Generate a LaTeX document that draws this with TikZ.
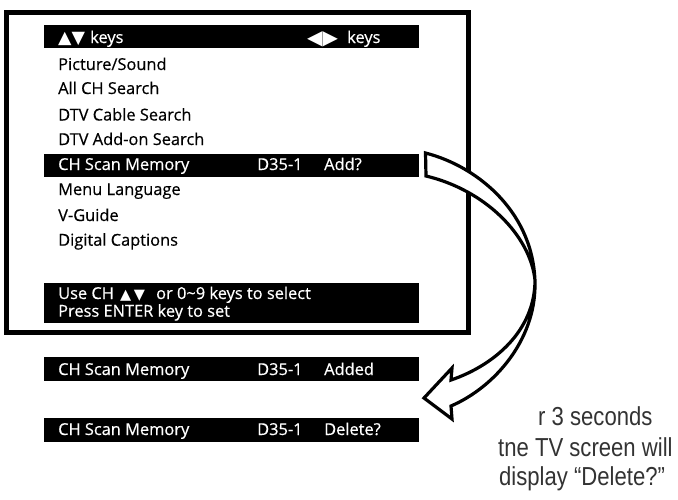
\documentclass[tikz,border=0pt]{standalone}
\usepackage{fontspec}
\setmainfont{Open Sans}[FakeBold=0.45]
\newfontfamily\symfont{DejaVu Sans}
\newfontfamily\narrowfont[FakeStretch=0.85]{Liberation Sans}
\tikzset{
  bar/.style={fill=black,draw=none,anchor=north west,inner sep=0pt,minimum width=375.5pt},
  lab/.style={anchor=base west,inner sep=0pt,font=\fontsize{16.4}{18}\selectfont},
  inv/.style={lab,text=white},
  note/.style={anchor=base west,inner sep=0pt,font=\narrowfont\fontsize{26}{28}\selectfont,text=black!80},
  bigarrow/.style={draw=black,fill=white,line width=3.2pt,line join=miter},
}
\begin{document}
\begin{tikzpicture}[x=1pt,y=-1pt]
\useasboundingbox (0,0) rectangle (678,499);
\fill[white] (0,0) rectangle (678,499);
\draw[line width=5pt] (6.5,12.5) rectangle (468.5,332.5);
\node[bar,minimum height=23pt] (b1) at (43.5,25) {};
\node[bar,minimum height=23pt] (b2) at (43.5,154) {};
\node[bar,minimum height=40pt] (b3) at (43.5,283) {};
\node[bar,minimum height=24pt] (b4) at (43.5,357) {};
\node[bar,minimum height=24pt] (b5) at (43.5,418) {};
\node[inv,font=\symfont\fontsize{17.5}{18}\selectfont] (t1s) at (58,43) {▲▼};
\node[inv] (t1) at (90,43) {keys};
\node[inv,font=\symfont\fontsize{20}{20}\selectfont] (t2s) at (307,44) {◀▶};
\node[inv] (t2) at (347,43) {keys};
\node[lab] (m1) at (58,70) {Picture/Sound};
\node[lab] (m2) at (58,94) {All CH Search};
\node[lab] (m3) at (58,120.5) {DTV Cable Search};
\node[lab] (m4) at (58,145) {DTV Add-on Search};
\node[inv] (m5) at (58,170) {CH Scan Memory};
\node[inv] (m5b) at (257,170) {D35-1};
\node[inv] (m5c) at (324,170) {Add?};
\node[lab] (m6) at (58,195) {Menu Language};
\node[lab] (m7) at (58,221) {V-Guide};
\node[lab] (m8) at (58,245.7) {Digital Captions};
\node[inv] (u1) at (58,299) {Use CH};
\node[inv,font=\symfont\fontsize{14.5}{16}\selectfont] (u1s) at (120,299) {▲\,▼};
\node[inv] (u1b) at (156,299) {or 0\textasciitilde 9 keys to select};
\node[inv] (u2) at (58,316.7) {Press ENTER key to set};
\node[inv] (a1) at (58,375) {CH Scan Memory};
\node[inv] (a2) at (257,375) {D35-1};
\node[inv] (a3) at (324,375) {Added};
\node[inv] (d1) at (58,435) {CH Scan Memory};
\node[inv] (d2) at (257,435) {D35-1};
\node[inv] (d3) at (324,435) {Delete?};
\draw[bigarrow] (425.5,153) .. controls (480,167) and (535,215) .. (535,285)
  .. controls (535,340) and (495,387) .. (451,406)
  -- (452,419) -- (424,398) -- (452,368) -- (451,380)
  .. controls (495,365) and (535,330) .. (535,280)
  .. controls (530,235) and (485,190) .. (426,176) -- cycle;
\node[note] (n1) at (538,425) {r 3 seconds};
\node[note] (n2) at (498,456) {tne TV screen will};
\node[note] (n3) at (499,485) {display “Delete?”};
\end{tikzpicture}
\end{document}
